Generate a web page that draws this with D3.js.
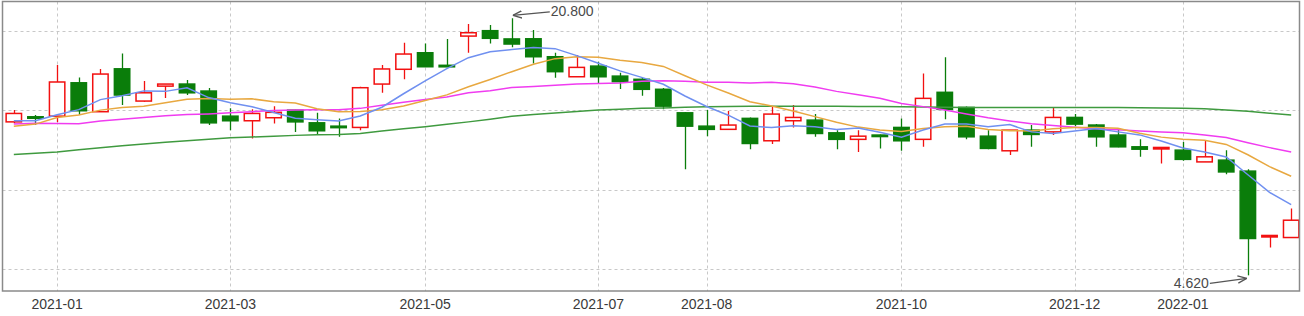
<!DOCTYPE html>
<html>
<head>
<meta charset="utf-8">
<script src="https://cdn.jsdelivr.net/npm/d3@7"></script>
<style>
  html, body { margin: 0; padding: 0; background: #fff; }
  svg { display: block; font-family: "Liberation Sans", Arial, sans-serif; }
</style>
</head>
<body>
<div id="chart"></div>
<script>
// weekly bars, one per trading week (Friday / last trading day)
var weeks = ["2020-12-25","2020-12-31","2021-01-08","2021-01-15","2021-01-22","2021-01-29",
  "2021-02-05","2021-02-10","2021-02-19","2021-02-26","2021-03-05","2021-03-12","2021-03-19",
  "2021-03-26","2021-04-02","2021-04-09","2021-04-16","2021-04-23","2021-04-30","2021-05-07",
  "2021-05-14","2021-05-21","2021-05-28","2021-06-04","2021-06-11","2021-06-18","2021-06-25",
  "2021-07-02","2021-07-09","2021-07-16","2021-07-23","2021-07-30","2021-08-06","2021-08-13",
  "2021-08-20","2021-08-27","2021-09-03","2021-09-10","2021-09-17","2021-09-24","2021-09-30",
  "2021-10-08","2021-10-15","2021-10-22","2021-10-29","2021-11-05","2021-11-12","2021-11-19",
  "2021-11-26","2021-12-03","2021-12-10","2021-12-17","2021-12-24","2021-12-31","2022-01-07",
  "2022-01-14","2022-01-21","2022-01-28","2022-02-11","2022-02-18"];

var opens  = [14.28,14.60,14.64,16.74,14.92,17.62,15.59,16.53,16.66,16.22,14.64,14.35,14.54,15.02,14.22,
  14.01,13.93,16.66,17.59,18.63,17.84,19.68,20.02,19.50,19.51,18.38,17.12,17.79,17.16,16.96,
  16.33,14.85,14.01,13.81,14.50,13.09,14.35,14.39,13.59,13.18,13.45,13.93,13.18,16.14,15.19,
  13.38,12.46,13.76,13.65,14.56,14.08,13.45,12.71,12.60,12.50,11.76,11.87,11.18,7.05,7.00];
var highs  = [15.02,14.71,17.86,17.08,17.61,18.59,16.85,16.66,16.91,16.41,15.13,15.07,15.27,15.05,14.85,
  14.50,16.49,17.86,19.26,19.22,19.50,20.44,20.38,20.80,20.06,18.63,18.49,18.07,17.37,17.04,
  16.41,14.90,15.02,14.96,14.56,15.27,15.34,14.77,13.76,13.76,13.48,14.50,17.33,18.34,15.24,
  13.76,13.76,14.08,15.19,14.77,14.14,13.87,13.18,12.67,13.02,13.13,12.50,11.29,7.13,8.83];
var lows   = [14.20,14.08,14.27,14.71,14.90,15.34,15.55,15.78,15.97,14.08,13.76,13.24,14.18,13.65,13.45,
  13.34,13.76,16.11,16.96,17.73,17.75,18.63,19.22,18.97,17.96,17.06,17.10,16.66,16.35,15.92,
  15.07,11.29,13.38,13.81,12.55,12.88,13.93,13.34,12.55,12.39,12.61,12.46,12.71,14.44,13.18,
  12.55,12.19,12.71,13.45,14.01,12.71,12.69,12.08,11.66,11.83,11.76,10.99,4.62,6.37,7.00];
var closes = [14.81,14.55,16.79,14.98,17.29,15.97,16.11,16.66,16.11,14.22,14.35,14.81,14.88,14.28,13.72,
  13.95,16.43,17.61,18.55,17.75,17.79,19.89,19.54,19.18,18.38,17.44,17.71,17.12,16.81,16.33,
  15.27,14.01,13.81,14.08,12.92,14.77,14.56,13.55,13.18,13.38,13.42,13.09,15.76,15.07,13.34,
  12.61,13.76,13.49,14.56,14.14,13.34,12.71,12.56,12.67,11.92,12.08,11.13,6.94,7.13,8.09];

// moving averages
var ma5  = [14.35,14.35,14.73,15.05,15.68,15.92,16.23,16.20,16.43,15.81,15.49,15.23,14.87,14.51,14.41,
  14.33,14.65,15.20,16.05,16.86,17.63,18.32,18.70,18.83,18.96,18.89,18.45,17.97,17.49,17.08,
  16.65,15.91,15.25,14.70,14.02,13.92,14.03,13.98,13.80,13.89,13.62,13.32,13.77,14.14,14.14,
  13.97,14.11,13.65,13.55,13.71,13.86,13.65,13.46,13.08,12.64,12.39,12.07,10.95,9.84,9.07];
var ma10 = [14.00,14.14,14.56,14.71,15.02,15.19,15.27,15.48,15.70,15.75,15.70,15.73,15.54,15.47,15.11,
  14.91,14.94,15.04,15.28,15.63,15.98,16.49,16.95,17.44,17.91,18.26,18.38,18.34,18.16,18.02,
  17.77,17.18,16.61,16.10,15.55,15.28,14.97,14.61,14.25,13.95,13.77,13.68,13.87,13.97,14.01,
  13.80,13.72,13.71,13.85,13.92,13.92,13.88,13.56,13.32,13.18,13.12,12.86,12.21,11.46,10.86];
var ma20 = [14.14,14.20,14.18,14.16,14.33,14.44,14.56,14.66,14.74,14.78,14.85,14.92,15.00,15.03,15.04,
  15.05,15.13,15.32,15.52,15.69,15.84,16.11,16.24,16.45,16.51,16.58,16.66,16.69,16.72,16.83,
  16.87,16.83,16.78,16.77,16.73,16.77,16.68,16.47,16.20,15.99,15.77,15.43,15.24,15.03,14.78,
  14.54,14.34,14.16,14.05,13.94,13.84,13.78,13.71,13.64,13.59,13.46,13.29,12.96,12.66,12.39];
var ma60 = [12.23,12.31,12.39,12.52,12.65,12.77,12.88,12.99,13.09,13.18,13.28,13.33,13.38,13.43,13.47,
  13.49,13.55,13.70,13.84,13.97,14.13,14.28,14.45,14.63,14.74,14.84,14.93,15.02,15.07,15.13,
  15.16,15.20,15.23,15.24,15.26,15.26,15.27,15.27,15.26,15.25,15.24,15.23,15.21,15.20,15.19,
  15.19,15.19,15.19,15.19,15.19,15.19,15.18,15.17,15.16,15.14,15.10,15.03,14.95,14.83,14.71];

var tickLabels = ["2021-01","2021-03","2021-05","2021-07","2021-08","2021-10","2021-12","2022-01"];
var priceGrid = [5, 10, 15, 20];

var width = 1304, height = 316;
var plot = {left: 2.5, top: 1.5, right: 1299.5, bottom: 291};

var svg = d3.select("#chart").append("svg")
    .attr("width", width)
    .attr("height", height);

// x: one band per week
var xScale = d3.scaleBand()
    .domain(weeks)
    .range([3, 1302])
    .padding(0);
var bw = xScale.bandwidth();
function cx(w) { return xScale(w) + bw / 2; }

// y: price
var yScale = d3.scaleLinear()
    .domain([5, 20])
    .range([269.3, 31]);

svg.append("defs").append("clipPath")
    .attr("id", "plotClip")
  .append("rect")
    .attr("x", plot.left)
    .attr("y", plot.top)
    .attr("width", plot.right - plot.left)
    .attr("height", plot.bottom - plot.top);

// grid
var grid = svg.append("g").attr("class", "grid");
grid.selectAll("line.h").data(priceGrid).enter()
    .append("line")
    .attr("class", "h")
    .attr("x1", plot.left).attr("x2", plot.right)
    .attr("y1", function (d) { return Math.round(yScale(d)) + 0.5; })
    .attr("y2", function (d) { return Math.round(yScale(d)) + 0.5; })
    .attr("stroke", "#c8c8c8")
    .attr("stroke-dasharray", "3,3");

// first week of each labelled month
var tickWeeks = tickLabels.map(function (m) {
    return weeks.find(function (w) { return w.slice(0, 7) === m; });
});

grid.selectAll("line.v").data(tickWeeks).enter()
    .append("line")
    .attr("class", "v")
    .attr("x1", function (d) { return Math.round(cx(d)) + 0.5; })
    .attr("x2", function (d) { return Math.round(cx(d)) + 0.5; })
    .attr("y1", plot.top).attr("y2", plot.bottom)
    .attr("stroke", "#c8c8c8")
    .attr("stroke-dasharray", "3,3");

var body = svg.append("g").attr("clip-path", "url(#plotClip)");

// candles
var bars = weeks.map(function (w, i) {
    return {week: w, o: opens[i], h: highs[i], l: lows[i], c: closes[i]};
});
var upColor = "#f21010", downColor = "#0a7d0a";
var bodyW = 15.4;

var candles = body.append("g").selectAll("g").data(bars).enter().append("g");

candles.append("line")
    .attr("x1", function (d) { return Math.round(cx(d.week)) + 0.5; })
    .attr("x2", function (d) { return Math.round(cx(d.week)) + 0.5; })
    .attr("y1", function (d) { return yScale(d.h); })
    .attr("y2", function (d) { return yScale(d.l); })
    .attr("stroke", function (d) { return d.c >= d.o ? upColor : downColor; })
    .attr("stroke-width", 1.3);

candles.append("rect")
    .attr("x", function (d) { return cx(d.week) - bodyW / 2; })
    .attr("y", function (d) { return yScale(Math.max(d.o, d.c)); })
    .attr("width", bodyW)
    .attr("height", function (d) { return Math.max(1.5, Math.abs(yScale(d.o) - yScale(d.c))); })
    .attr("fill", function (d) { return d.c >= d.o ? "#fff" : downColor; })
    .attr("stroke", function (d) { return d.c >= d.o ? upColor : downColor; })
    .attr("stroke-width", 1.5);

// moving average lines
var maSeries = [
    {values: ma60, color: "#3f9a3f"},
    {values: ma20, color: "#f03cf0"},
    {values: ma10, color: "#e8a840"},
    {values: ma5,  color: "#7090f0"}
];
var line = d3.line()
    .x(function (d, i) { return cx(weeks[i]); })
    .y(function (d) { return yScale(d); });

body.selectAll("path.ma").data(maSeries).enter()
    .append("path")
    .attr("class", "ma")
    .attr("d", function (d) { return line(d.values); })
    .attr("fill", "none")
    .attr("stroke", function (d) { return d.color; })
    .attr("stroke-width", 1.5);

// border
svg.append("rect")
    .attr("x", plot.left).attr("y", plot.top)
    .attr("width", plot.right - plot.left)
    .attr("height", plot.bottom - plot.top)
    .attr("fill", "none")
    .attr("stroke", "#8a8a8a")
    .attr("stroke-width", 1.5);

// x labels
svg.append("g").selectAll("text").data(tickWeeks).enter()
    .append("text")
    .attr("x", function (d) { return cx(d); })
    .attr("y", 309)
    .attr("text-anchor", "middle")
    .attr("font-size", 14)
    .attr("fill", "#3a3a3a")
    .text(function (d, i) { return tickLabels[i]; });

// max / min markers
svg.append("defs").append("marker")
    .attr("id", "arrow")
    .attr("viewBox", "0 0 10 10")
    .attr("refX", 10).attr("refY", 5)
    .attr("markerWidth", 7).attr("markerHeight", 7)
    .attr("orient", "auto")
  .append("path")
    .attr("d", "M0,1L10,5L0,9")
    .attr("fill", "none")
    .attr("stroke", "#555")
    .attr("stroke-width", 1.5);

var iMax = highs.indexOf(d3.max(highs));
var iMin = lows.indexOf(d3.min(lows));
var maxPt = [cx(weeks[iMax]) + 1, yScale(highs[iMax]) - 3];
var minPt = [cx(weeks[iMin]) - 1, yScale(lows[iMin]) + 3];

svg.append("line")
    .attr("x1", maxPt[0] + 37).attr("y1", maxPt[1] - 3.5)
    .attr("x2", maxPt[0]).attr("y2", maxPt[1])
    .attr("stroke", "#555").attr("stroke-width", 1.3)
    .attr("marker-end", "url(#arrow)");
svg.append("text")
    .attr("x", maxPt[0] + 38).attr("y", maxPt[1] + 1)
    .attr("font-size", 14).attr("fill", "#4a4a4a")
    .text(d3.format(".3f")(highs[iMax]));

svg.append("line")
    .attr("x1", minPt[0] - 37).attr("y1", minPt[1] + 5)
    .attr("x2", minPt[0]).attr("y2", minPt[1])
    .attr("stroke", "#555").attr("stroke-width", 1.3)
    .attr("marker-end", "url(#arrow)");
svg.append("text")
    .attr("x", minPt[0] - 38).attr("y", minPt[1] + 10)
    .attr("text-anchor", "end")
    .attr("font-size", 14).attr("fill", "#4a4a4a")
    .text(d3.format(".3f")(lows[iMin]));
</script>
</body>
</html>
